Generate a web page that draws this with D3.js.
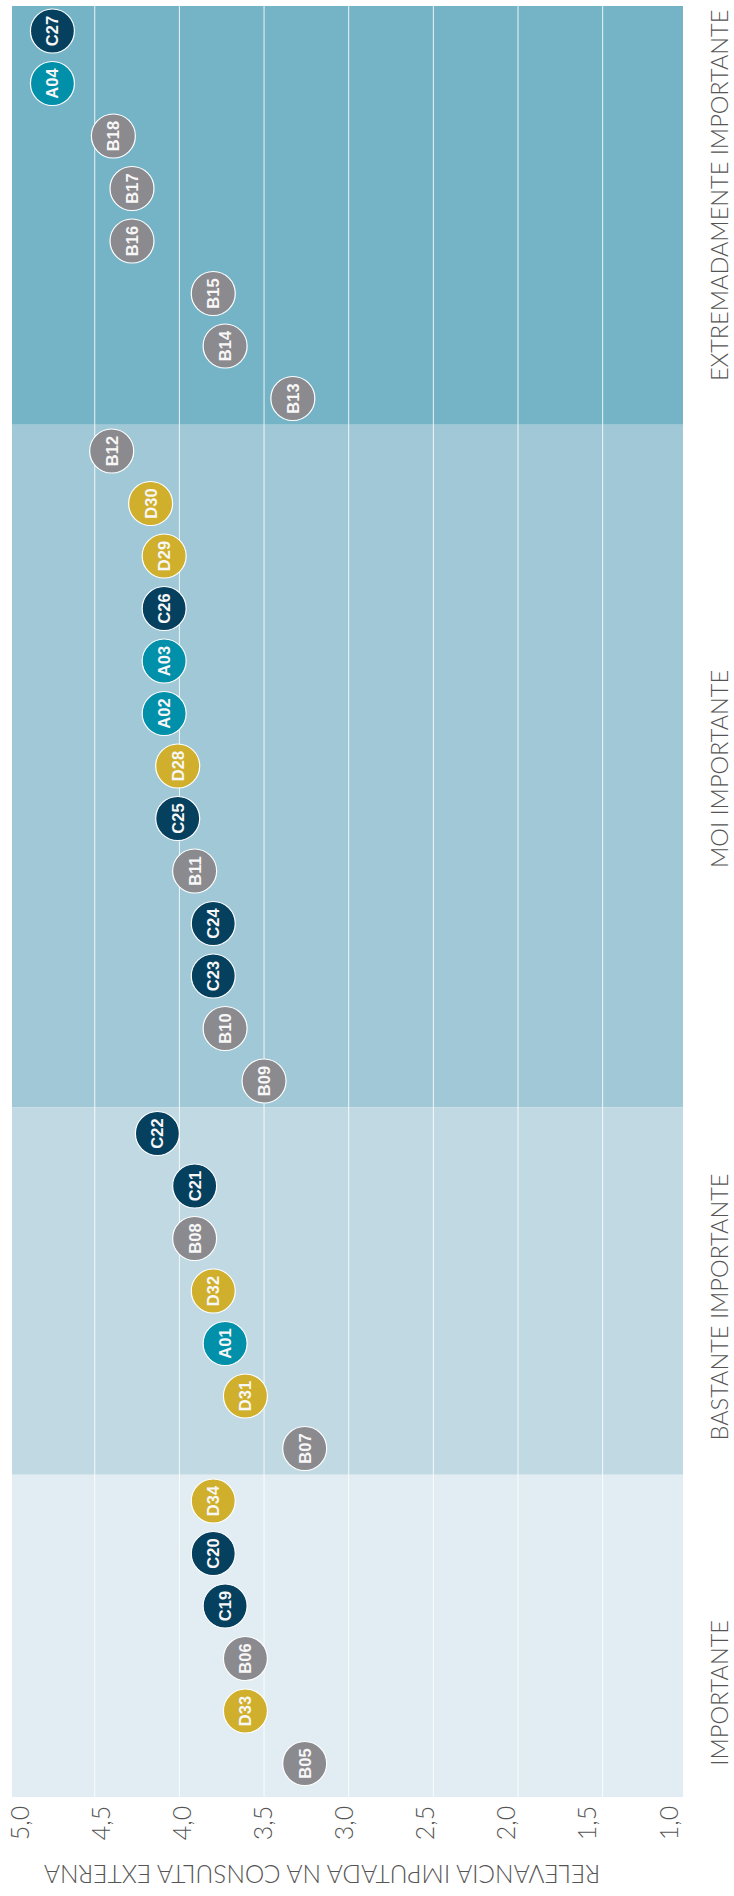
<!DOCTYPE html>
<html>
<head>
<meta charset="utf-8">
<script src="https://cdn.jsdelivr.net/npm/d3@7/dist/d3.min.js"></script>
<style>
  html, body { margin: 0; padding: 0; background: #ffffff; }
  svg { display: block; }
</style>
</head>
<body>
<div id="chart"></div>
<script>
// ---------------- DATA ----------------
const items = [
  "C27","A04","B18","B17","B16","B15","B14","B13",
  "B12","D30","D29","C26","A03","A02","D28","C25","B11","C24","C23","B10","B09",
  "C22","C21","B08","D32","A01","D31","B07",
  "D34","C20","C19","B06","D33","B05"
];
const values = [
  4.75,4.75,4.39,4.28,4.28,3.80,3.73,3.33,
  4.40,4.17,4.09,4.09,4.09,4.09,4.01,4.01,3.91,3.80,3.80,3.73,3.50,
  4.13,3.91,3.91,3.80,3.73,3.61,3.26,
  3.80,3.80,3.73,3.61,3.61,3.26
];
const groups = ["EXTREMADAMENTE IMPORTANTE","MOI IMPORTANTE","BASTANTE IMPORTANTE","IMPORTANTE"];
const groupSizes = [8,13,7,6];
const tickValues = [5.0,4.5,4.0,3.5,3.0,2.5,2.0,1.5,1.0];
const tickLabels = ["5,0","4,5","4,0","3,5","3,0","2,5","2,0","1,5","1,0"];
const axisTitle = "RELEVANCIA IMPUTADA NA CONSULTA EXTERNA";

// ---------------- STYLE / LAYOUT ----------------
const W = 734, H = 1896;
const plot = {left: 12, right: 683, top: 6, bottom: 1797};
const bandColors = ["#75b4c7", "#a0c8d6", "#c0d9e3", "#e1edf2"];
const seriesColor = {A: "#0090aa", B: "#8b8a8f", C: "#06405f", D: "#cfaf2b"};
const labelShift = [-20, 3, 16, 57];
const R = 22;
const lightFont = "Lato, 'Open Sans', sans-serif";

const svg = d3.select("#chart").append("svg")
  .attr("width", W).attr("height", H);

const x = d3.scaleLinear().domain([5, 1]).range([10.1, 687.3]);
const xTick = d3.scaleLinear().domain([5, 1]).range([19.3, 667.5]);
const y = d3.scalePoint().domain(items).range([31, 1763.5]);
const step = y.step();

// group bands
let idx = 0;
const bands = groups.map((g, i) => {
  const first = items[idx], last = items[idx + groupSizes[i] - 1];
  idx += groupSizes[i];
  const y0 = i === 0 ? plot.top : y(first) - step / 2;
  const y1 = i === groups.length - 1 ? plot.bottom : y(last) + step / 2;
  return {name: g, y0, y1, i};
});

svg.append("g").selectAll("rect").data(bands).join("rect")
  .attr("x", plot.left).attr("width", plot.right - plot.left)
  .attr("y", d => d.y0).attr("height", d => d.y1 - d.y0)
  .attr("fill", d => bandColors[d.i]);

// gridlines
svg.append("g").selectAll("line").data(tickValues.filter(v => v < 5 && v > 1)).join("line")
  .attr("x1", d => x(d)).attr("x2", d => x(d))
  .attr("y1", plot.top).attr("y2", plot.bottom)
  .attr("stroke", "#ffffff").attr("stroke-opacity", 0.85).attr("stroke-width", 1);

// tick labels
svg.append("g").selectAll("text").data(tickValues).join("text")
  .attr("transform", (d) => `translate(${xTick(d)},1823) rotate(-90)`)
  .attr("text-anchor", "middle").attr("dominant-baseline", "central")
  .attr("font-family", lightFont).attr("font-weight", 300)
  .attr("font-size", 25).attr("fill", "#555555")
  .text((d, i) => tickLabels[i]);

// axis title (upside down)
svg.append("text")
  .attr("transform", `translate(322,1874) rotate(180)`)
  .attr("text-anchor", "middle").attr("dominant-baseline", "central")
  .attr("font-family", lightFont).attr("font-weight", 300)
  .attr("font-size", 24.5).attr("fill", "#555555")
  .text(axisTitle);

// group labels
svg.append("g").selectAll("text").data(bands).join("text")
  .attr("transform", d => `translate(719,${(d.y0 + d.y1) / 2 + labelShift[d.i]}) rotate(-90)`)
  .attr("text-anchor", "middle").attr("dominant-baseline", "central")
  .attr("font-family", lightFont).attr("font-weight", 300)
  .attr("font-size", 23.5).attr("fill", "#555555")
  .text(d => d.name);

// dots
const data = items.map((k, i) => ({k, v: values[i]}));
const dots = svg.append("g").selectAll("g").data(data).join("g")
  .attr("transform", d => `translate(${x(d.v)},${y(d.k)})`);
dots.append("circle")
  .attr("r", R)
  .attr("fill", d => seriesColor[d.k[0]])
  .attr("stroke", "#ffffff").attr("stroke-width", 1.2);
dots.append("text")
  .attr("transform", "rotate(-90)")
  .attr("text-anchor", "middle").attr("dominant-baseline", "central")
  .attr("font-family", "'Liberation Sans', Arial, sans-serif").attr("font-weight", "bold")
  .attr("font-size", 16.5).attr("fill", "#f7f7f7")
  .text(d => d.k);
</script>
</body>
</html>
